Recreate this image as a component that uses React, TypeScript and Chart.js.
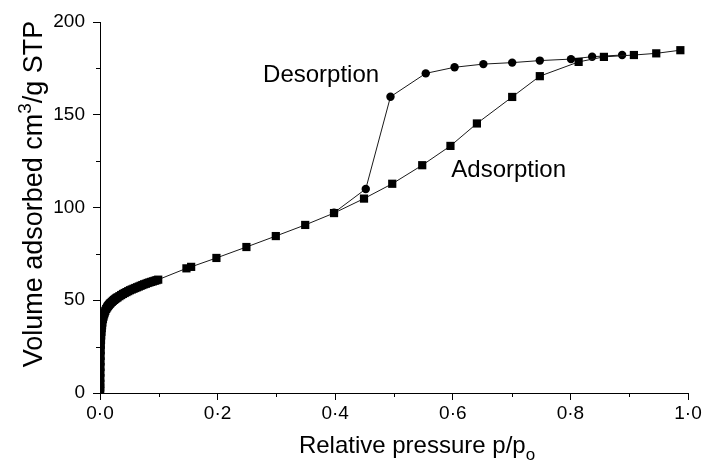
import { useEffect, useRef } from "react";
import { Chart, registerables } from "chart.js";

Chart.register(...registerables);

const FONT = '"Liberation Sans", Arial, Helvetica, sans-serif';

// Adsorption branch (relative pressure, volume adsorbed cm3/g STP)
const adsorptionP = [
  0.0003, 0.0004, 0.0005, 0.0006, 0.0007, 0.0008, 0.0009, 0.001, 0.0012, 0.0014,
  0.0017, 0.002, 0.0025, 0.003, 0.0035, 0.004, 0.005, 0.006, 0.007, 0.008,
  0.009, 0.0105, 0.012, 0.0135, 0.015, 0.0165, 0.018, 0.02, 0.022, 0.024,
  0.026, 0.028, 0.03, 0.033, 0.036, 0.039, 0.042, 0.045, 0.048, 0.051,
  0.054, 0.057, 0.06, 0.063, 0.066, 0.069, 0.072, 0.075, 0.078, 0.081,
  0.084, 0.087, 0.09, 0.093, 0.096, 0.099, 0.147, 0.155, 0.198, 0.249,
  0.299, 0.349, 0.398, 0.449, 0.497, 0.548, 0.596, 0.641, 0.701, 0.748,
  0.814, 0.857, 0.908, 0.946, 0.987,
];
const adsorptionV = [
  1, 3, 5, 8, 11, 14, 17, 20, 23, 26,
  28.5, 31, 33, 35, 36.5, 38, 39.8, 41.2, 42.4, 43.4,
  44.3, 45.3, 46.1, 46.8, 47.4, 48, 48.5, 49.1, 49.7, 50.2,
  50.7, 51.2, 51.6, 52.2, 52.8, 53.4, 53.9, 54.4, 54.9, 55.4,
  55.8, 56.2, 56.6, 57, 57.4, 57.8, 58.2, 58.6, 58.9, 59.3,
  59.6, 59.9, 60.2, 60.5, 60.8, 61.1, 67.2, 68, 72.8, 78.7,
  84.6, 90.6, 97, 104.8, 112.8, 122.8, 133.2, 145.3, 159.6, 170.8,
  178.5, 181.2, 182.2, 183.1, 184.8,
];

// Desorption branch, from high to low pressure
const desorptionP = [0.888, 0.837, 0.801, 0.748, 0.701, 0.652, 0.603, 0.554, 0.494, 0.452, 0.398];
const desorptionV = [182.2, 181.3, 180.0, 179.2, 178.1, 177.3, 175.6, 172.3, 159.7, 110.0, 97.2];

const yMajorTicks = [0, 50, 100, 150, 200];
const yMinorTicks = [25, 75, 125, 175];
const xMajorTicks = [0, 0.2, 0.4, 0.6, 0.8, 1.0];
const xMinorTicks = [0.1, 0.3, 0.5, 0.7, 0.9];

const toPoints = (xs: number[], ys: number[]) => xs.map((x, i) => ({ x, y: ys[i] }));

type Seg = { t: string; sub?: boolean; sup?: boolean };

function drawRich(ctx: CanvasRenderingContext2D, segs: Seg[], size: number, cx: number, baseline: number) {
  const widths = segs.map((s) => {
    ctx.font = `${s.sub || s.sup ? Math.round(size * 0.72) : size}px ${FONT}`;
    return ctx.measureText(s.t).width;
  });
  const total = widths.reduce((a, b) => a + b, 0);
  let x = cx - total / 2;
  ctx.textAlign = "left";
  ctx.textBaseline = "alphabetic";
  segs.forEach((s, i) => {
    ctx.font = `${s.sub || s.sup ? Math.round(size * 0.72) : size}px ${FONT}`;
    const dy = s.sub ? size * 0.28 : s.sup ? -size * 0.42 : 0;
    ctx.fillText(s.t, x, baseline + dy);
    x += widths[i];
  });
}

const decorations = {
  id: "decorations",
  afterDraw(chart: any) {
    const { ctx, chartArea } = chart;
    const xs = chart.scales.x;
    const ys = chart.scales.y;
    ctx.save();
    ctx.strokeStyle = "#000";
    ctx.lineWidth = 1;
    // minor ticks
    yMinorTicks.forEach((v) => {
      const py = Math.round(ys.getPixelForValue(v)) + 0.5;
      ctx.beginPath();
      ctx.moveTo(chartArea.left - 4, py);
      ctx.lineTo(chartArea.left, py);
      ctx.stroke();
    });
    xMinorTicks.forEach((v) => {
      const px = Math.round(xs.getPixelForValue(v)) + 0.5;
      ctx.beginPath();
      ctx.moveTo(px, chartArea.bottom);
      ctx.lineTo(px, chartArea.bottom + 4);
      ctx.stroke();
    });

    ctx.fillStyle = "#000";
    // branch labels
    drawRich(ctx, [{ t: "Desorption" }], 24, xs.getPixelForValue(0.376), ys.getPixelForValue(167.8));
    drawRich(ctx, [{ t: "Adsorption" }], 24, xs.getPixelForValue(0.695), ys.getPixelForValue(116.4));

    // x axis title
    drawRich(
      ctx,
      [{ t: "Relative pressure p/p" }, { t: "o", sub: true }],
      24,
      417,
      453
    );

    // y axis title
    ctx.save();
    ctx.translate(42, 194);
    ctx.rotate(-Math.PI / 2);
    drawRich(
      ctx,
      [{ t: "Volume adsorbed cm" }, { t: "3", sup: true }, { t: "/g STP" }],
      27,
      0,
      0
    );
    ctx.restore();
    ctx.restore();
  },
};

export default function App() {
  const canvasRef = useRef<HTMLCanvasElement | null>(null);

  useEffect(() => {
    if (!canvasRef.current) return;
    const tickFont = { family: FONT, size: 19 };
    const chart = new Chart(canvasRef.current, {
      type: "scatter",
      data: {
        datasets: [
          {
            label: "Adsorption",
            data: toPoints(adsorptionP, adsorptionV),
            showLine: true,
            borderColor: "#1a1a1a",
            borderWidth: 1,
            pointStyle: "rect",
            pointRadius: 5.8,
            pointBackgroundColor: "#000",
            pointBorderColor: "#000",
            pointBorderWidth: 0,
            clip: { left: 0, bottom: 0, top: 10, right: 10 },
          },
          {
            label: "Desorption",
            data: toPoints(desorptionP, desorptionV),
            showLine: true,
            borderColor: "#1a1a1a",
            borderWidth: 1,
            pointStyle: "circle",
            pointRadius: 4.2,
            pointBackgroundColor: "#000",
            pointBorderColor: "#000",
            pointBorderWidth: 0,
            clip: { left: 0, bottom: 0, top: 10, right: 10 },
          },
        ],
      },
      options: {
        animation: false,
        responsive: false,
        devicePixelRatio: 1,
        layout: { padding: { left: 0, right: 20, top: 22, bottom: 0 } },
        plugins: {
          legend: { display: false },
          tooltip: { enabled: false },
        },
        scales: {
          x: {
            type: "linear",
            min: 0,
            max: 1,
            afterBuildTicks: (scale: any) => {
              scale.ticks = xMajorTicks.map((value) => ({ value }));
            },
            afterFit: (scale: any) => {
              scale.height = 69;
            },
            border: { display: true, color: "#000", width: 1 },
            grid: { drawOnChartArea: false, drawTicks: true, tickLength: 7, color: "#000" },
            ticks: {
              color: "#000",
              font: tickFont,
              padding: 2,
              maxRotation: 0,
              callback: (v: any) => Number(v).toFixed(1).replace(".", "·"),
            },
          },
          y: {
            type: "linear",
            min: 0,
            max: 200,
            afterBuildTicks: (scale: any) => {
              scale.ticks = yMajorTicks.map((value) => ({ value }));
            },
            afterFit: (scale: any) => {
              scale.width = 100;
            },
            border: { display: true, color: "#000", width: 1 },
            grid: { drawOnChartArea: false, drawTicks: true, tickLength: 7, color: "#000" },
            ticks: {
              color: "#000",
              font: tickFont,
              padding: 8,
              callback: (v: any) => String(v),
            },
          },
        },
      },
      plugins: [decorations],
    });
    return () => chart.destroy();
  }, []);

  return (
    <div style={{ position: "fixed", left: 0, top: 0, width: 708, height: 462, background: "#fff" }}>
      <canvas ref={canvasRef} width={708} height={462} style={{ display: "block", width: 708, height: 462 }} />
    </div>
  );
}
